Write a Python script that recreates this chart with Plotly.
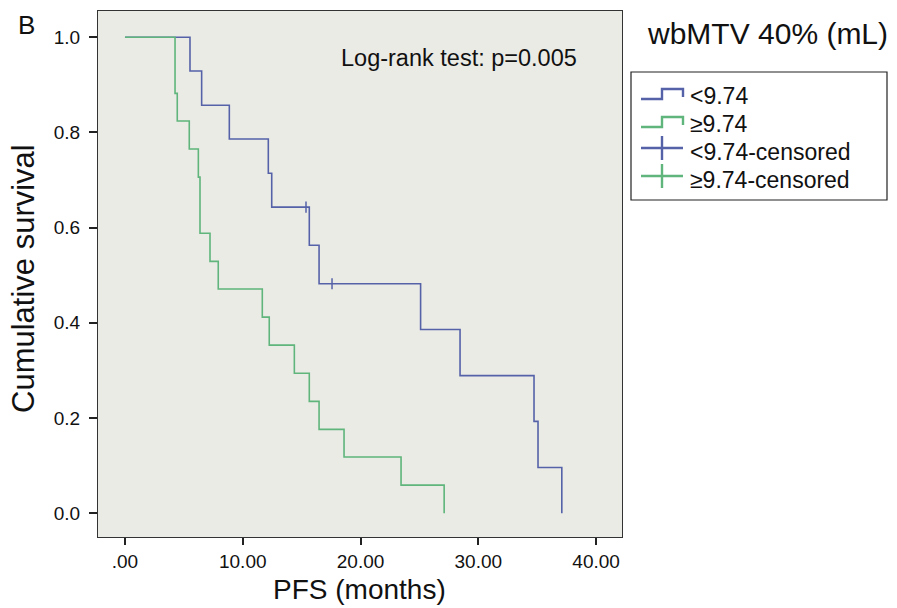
import plotly.graph_objects as go

# ---- data ----
blue_times = [0, 5.52, 6.51, 8.86, 12.17, 12.46, 15.65, 16.48, 25.1, 28.45, 34.73, 35.07, 37.09]
blue_surv = [1.0, 0.929, 0.857, 0.786, 0.714, 0.643, 0.563, 0.482, 0.386, 0.289, 0.193, 0.096, 0.0]
blue_cens_times = [15.37, 17.58]
blue_cens_surv = [0.643, 0.482]

green_times = [0, 4.25, 4.44, 5.46, 6.23, 6.37, 7.22, 7.92, 11.66, 12.25, 14.38, 15.65, 16.48, 18.6, 23.44, 27.1]
green_surv = [1.0, 0.882, 0.824, 0.765, 0.706, 0.588, 0.529, 0.471, 0.412, 0.353, 0.294, 0.235, 0.176, 0.118, 0.059, 0.0]

x_tickvals = [0, 10, 20, 30, 40]
x_ticktext = [".00", "10.00", "20.00", "30.00", "40.00"]
y_tickvals = [0.0, 0.2, 0.4, 0.6, 0.8, 1.0]
y_ticktext = ["0.0", "0.2", "0.4", "0.6", "0.8", "1.0"]

legend_labels = ["<9.74", "≥9.74", "<9.74-censored", "≥9.74-censored"]

BLUE = "#5662a8"
GREEN = "#5fb57b"
FONT = "Liberation Sans, Arial, sans-serif"
TXT = "#111"

W, H = 897, 608
L, R, T, B = 98, 622, 11, 537


def px(xp):
    return (xp - L) / (R - L)


def py(yp):
    return (B - yp) / (B - T)


fig = go.Figure()
fig.add_trace(go.Scatter(x=blue_times, y=blue_surv, mode="lines", line=dict(color=BLUE, width=1.6, shape="hv"),
                         showlegend=False, hoverinfo="skip"))
fig.add_trace(go.Scatter(x=green_times, y=green_surv, mode="lines", line=dict(color=GREEN, width=1.6, shape="hv"),
                         showlegend=False, hoverinfo="skip"))
fig.add_trace(go.Scatter(x=blue_cens_times, y=blue_cens_surv, mode="markers",
                         marker=dict(symbol="line-ns", size=8, line=dict(color=BLUE, width=1.5)),
                         showlegend=False, hoverinfo="skip"))

shapes = []
annotations = []

# legend box
shapes.append(dict(type="rect", xref="paper", yref="paper", x0=px(631), x1=px(887), y0=py(200), y1=py(72),
                   line=dict(color="#222", width=1.2), fillcolor="white", layer="above"))
colors = [BLUE, GREEN, BLUE, GREEN]
row_y = [95, 123, 151, 179]
for i, (lab, c, yy) in enumerate(zip(legend_labels, colors, row_y)):
    if i < 2:
        path_pts = [(641, yy + 4), (662, yy + 4), (662, yy - 6), (683, yy - 6), (683, yy + 2)]
        path = "M " + " L ".join(f"{px(a)},{py(b)}" for a, b in path_pts)
        shapes.append(dict(type="path", xref="paper", yref="paper", path=path,
                           line=dict(color=c, width=2.4)))
    else:
        shapes.append(dict(type="line", xref="paper", yref="paper", x0=px(641), x1=px(683), y0=py(yy - 3),
                           y1=py(yy - 3), line=dict(color=c, width=2.4)))
        shapes.append(dict(type="line", xref="paper", yref="paper", x0=px(662), x1=px(662), y0=py(yy - 15),
                           y1=py(yy + 9), line=dict(color=c, width=2.4)))
    annotations.append(dict(text=lab, xref="paper", yref="paper", x=px(688), y=py(yy + 1), xanchor="left",
                            yanchor="middle", showarrow=False, font=dict(family=FONT, size=23, color=TXT)))

annotations.append(dict(text="wbMTV 40% (mL)", xref="paper", yref="paper", x=px(767), y=py(34),
                        xanchor="center", yanchor="middle", showarrow=False,
                        font=dict(family=FONT, size=30, color=TXT)))
annotations.append(dict(text="Log-rank test: p=0.005", xref="paper", yref="paper", x=px(459), y=py(58),
                        xanchor="center", yanchor="middle", showarrow=False,
                        font=dict(family=FONT, size=23.5, color=TXT)))
annotations.append(dict(text="B", xref="paper", yref="paper", x=px(26), y=py(25), xanchor="center",
                        yanchor="middle", showarrow=False, font=dict(family=FONT, size=26, color=TXT)))
annotations.append(dict(text="PFS (months)", xref="paper", yref="paper", x=px(359), y=py(589),
                        xanchor="center", yanchor="middle", showarrow=False,
                        font=dict(family=FONT, size=28, color=TXT)))
annotations.append(dict(text="Cumulative survival", xref="paper", yref="paper", x=px(23), y=py(279),
                        xanchor="center", yanchor="middle", textangle=-90, showarrow=False,
                        font=dict(family=FONT, size=31, color=TXT)))

fig.update_layout(
    width=W, height=H,
    margin=dict(l=L, r=W - R, t=T, b=H - B),
    paper_bgcolor="white",
    plot_bgcolor="#ebebe6",
    shapes=shapes,
    annotations=annotations,
    font=dict(family=FONT, color=TXT),
)
fig.update_xaxes(range=[-2.29, 42.2], tickvals=x_tickvals, ticktext=x_ticktext, showgrid=False, zeroline=False,
                 showline=True, mirror=True, linecolor="#333", linewidth=1.3, ticks="outside", ticklen=7,
                 tickwidth=2, tickcolor="#222",
                 tickfont=dict(size=19, family=FONT, color=TXT))
fig.update_yaxes(range=[-0.05, 1.055], tickvals=y_tickvals, ticktext=y_ticktext, showgrid=False, zeroline=False,
                 showline=True, mirror=True, linecolor="#333", linewidth=1.3, ticks="outside", ticklen=8,
                 tickwidth=2, tickcolor="#222", ticklabelstandoff=5,
                 tickfont=dict(size=19, family=FONT, color=TXT))

fig.write_html("out.html")
